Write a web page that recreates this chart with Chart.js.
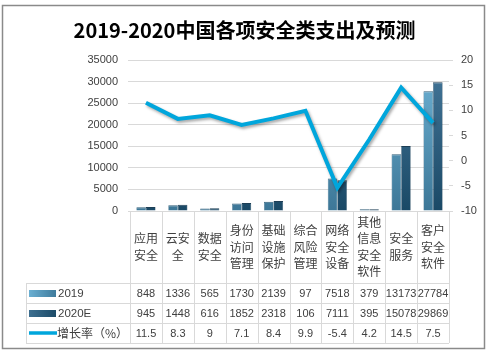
<!DOCTYPE html>
<html>
<head>
<meta charset="utf-8">
<script src="https://cdn.jsdelivr.net/npm/chart.js@4"></script>
<style>
html,body{margin:0;padding:0;background:#fff;}
canvas{display:block;}
</style>
</head>
<body>
<canvas id="c" width="489" height="352"></canvas>
<script>
const categories = [['应用','安全'],['云安','全'],['数据','安全'],['身份','访问','管理'],['基础','设施','保护'],['综合','风险','管理'],['网络','安全','设备'],['其他','信息','安全','软件'],['安全','服务'],['客户','安全','软件']];
const values2019 = [848,1336,565,1730,2139,97,7518,379,13173,27784];
const values2020 = [945,1448,616,1852,2318,106,7111,395,15078,29869];
const growth = [11.5,8.3,9,7.1,8.4,9.9,-5.4,4.2,14.5,7.5];
const growthLabels = ['11.5','8.3','9','7.1','8.4','9.9','-5.4','4.2','14.5','7.5'];
const seriesNames = ['2019','2020E','增长率（%）'];
const titleText = '2019-2020中国各项安全类支出及预测';

const CJK = '"Noto Sans CJK SC", "Noto Sans", sans-serif';
const NUM = '"Liberation Sans", Arial, sans-serif';
const TXT = '#404040';
const GRID = '#d9d9d9';

function vgrad(chart, top, bottom){
  const a = chart.chartArea;
  if(!a) return top;
  const g = chart.ctx.createLinearGradient(0, a.top, 0, a.bottom);
  g.addColorStop(0, top);
  g.addColorStop(1, bottom);
  return g;
}

const frame = {
  id:'frame',
  beforeDraw(chart){
    const ctx = chart.ctx;
    ctx.save();
    ctx.fillStyle = '#fff';
    ctx.fillRect(0,0,chart.width,chart.height);
    ctx.strokeStyle = '#8a8a8a';
    ctx.lineWidth = 1.5;
    ctx.strokeRect(2.5,5.5,482,343);
    ctx.restore();
  }
};

const lineShadow = {
  id:'lineShadow',
  beforeDatasetDraw(chart, args){
    if(args.index === 2){
      const ctx = chart.ctx;
      ctx.save();
      ctx.shadowColor = 'rgba(0,0,0,0.35)';
      ctx.shadowBlur = 3;
      ctx.shadowOffsetX = 1.5;
      ctx.shadowOffsetY = 2;
    }
  },
  afterDatasetDraw(chart, args){
    if(args.index === 2) chart.ctx.restore();
  }
};

const table = {
  id:'table',
  afterDraw(chart){
    const ctx = chart.ctx;
    const x = chart.scales.x;
    const a = chart.chartArea;
    const n = categories.length;
    const step = (a.right - a.left)/n;
    const tLeft = 26;
    const rows = [283, 303, 323, 343];
    ctx.save();
    ctx.strokeStyle = GRID;
    ctx.lineWidth = 1;
    ctx.beginPath();
    ctx.moveTo(a.left, a.bottom + 0.5); ctx.lineTo(a.right, a.bottom + 0.5);
    ctx.stroke();
    for(let i=0;i<=n;i++){
      const px = Math.round(a.left + i*step) + 0.5;
      ctx.beginPath();
      ctx.moveTo(px, a.bottom); ctx.lineTo(px, rows[3]);
      ctx.stroke();
    }
    ctx.beginPath();
    ctx.moveTo(tLeft+0.5, rows[0]); ctx.lineTo(tLeft+0.5, rows[3]);
    ctx.stroke();
    rows.forEach(r=>{
      ctx.beginPath();
      ctx.moveTo(tLeft, r+0.5); ctx.lineTo(a.right, r+0.5);
      ctx.stroke();
    });
    ctx.fillStyle = TXT;
    ctx.textAlign = 'center';
    ctx.textBaseline = 'middle';
    ctx.font = '12px ' + CJK;
    const hc = 247, lh = 16.5;
    categories.forEach((lines,i)=>{
      const cx = x.getPixelForValue(i);
      const y0 = hc - (lines.length-1)*lh/2;
      lines.forEach((t,j)=>{
        ctx.fillText(t, cx, y0 + j*lh);
      });
    });
    const rowData = [values2019.map(String), values2020.map(String), growthLabels];
    ctx.font = '11px ' + NUM;
    rowData.forEach((arr,r)=>{
      const cy = (rows[r]+rows[r+1])/2 + 0.5;
      arr.forEach((t,i)=>{
        ctx.fillText(t, x.getPixelForValue(i), cy);
      });
    });
    ctx.textAlign = 'left';
    const sw = [
      ['#6aafd2','#3f7b9c'],
      ['#3d6f90','#1c4b68']
    ];
    for(let r=0;r<2;r++){
      const cy = (rows[r]+rows[r+1])/2;
      const g = ctx.createLinearGradient(29,0,56,0);
      g.addColorStop(0, sw[r][0]); g.addColorStop(1, sw[r][1]);
      ctx.fillStyle = g;
      ctx.fillRect(29, cy-3, 27, 7);
      ctx.fillStyle = TXT;
      ctx.font = '11.5px ' + NUM;
      ctx.fillText(seriesNames[r], 58, cy+1);
    }
    const cy3 = (rows[2]+rows[3])/2;
    ctx.strokeStyle = '#00a6dc';
    ctx.lineWidth = 3.5;
    ctx.beginPath(); ctx.moveTo(29, cy3); ctx.lineTo(57, cy3); ctx.stroke();
    ctx.fillStyle = TXT;
    ctx.font = '12px ' + CJK;
    ctx.fillText(seriesNames[2], 57, cy3);
    ctx.restore();
  }
};

new Chart(document.getElementById('c'), {
  type:'bar',
  data:{
    labels: categories.map(c=>c.join('')),
    datasets:[
      {
        label: seriesNames[0],
        data: values2019,
        yAxisID:'y',
        order:2,
        backgroundColor: ctx => vgrad(ctx.chart, '#6fb4d7', '#3d7797'),
        borderColor:'#2f5d78',
        borderWidth:{top:1,left:0.5,right:0.5,bottom:0},
        categoryPercentage:0.6,
        barPercentage:1.0
      },
      {
        label: seriesNames[1],
        data: values2020,
        yAxisID:'y',
        order:2,
        backgroundColor: ctx => vgrad(ctx.chart, '#46789b', '#1a4966'),
        borderColor:'#1d3e55',
        borderWidth:{top:1,left:0.5,right:0.5,bottom:0},
        categoryPercentage:0.6,
        barPercentage:1.0
      },
      {
        type:'line',
        label: seriesNames[2],
        data: growth,
        yAxisID:'y1',
        order:1,
        borderColor:'#00a6dc',
        backgroundColor:'#00a6dc',
        borderWidth:4,
        pointRadius:0,
        pointHoverRadius:0,
        tension:0,
        fill:false
      }
    ]
  },
  plugins:[frame, lineShadow, table],
  options:{
    responsive:false,
    animation:false,
    events:[],
    layout:{padding:{left:0,right:0,top:0,bottom:141}},
    plugins:{
      legend:{display:false},
      tooltip:{enabled:false},
      title:{
        display:true,
        text:titleText,
        color:'#000',
        font:{family:'"Noto Sans CJK SC", serif', size:20, weight:'bold', lineHeight:1.2},
        padding:{top:18,bottom:18}
      }
    },
    scales:{
      x:{
        offset:true,
        grid:{display:false},
        border:{display:false},
        ticks:{display:false},
        afterFit(s){ s.height = 0; }
      },
      y:{
        position:'left',
        min:0, max:35000,
        ticks:{stepSize:5000, color:TXT, font:{family:NUM, size:11}, padding:10, callback:v=>String(v)},
        grid:{color:GRID, drawTicks:true, tickLength:2},
        border:{display:false},
        afterFit(s){ s.width = 130; }
      },
      y1:{
        position:'right',
        min:-10, max:20,
        ticks:{stepSize:5, color:TXT, font:{family:NUM, size:11}, padding:8, callback:v=>String(v)},
        grid:{drawOnChartArea:false, color:GRID, drawTicks:true, tickLength:4},
        border:{display:false},
        afterFit(s){ s.width = 40; }
      }
    }
  }
});
</script>
</body>
</html>
